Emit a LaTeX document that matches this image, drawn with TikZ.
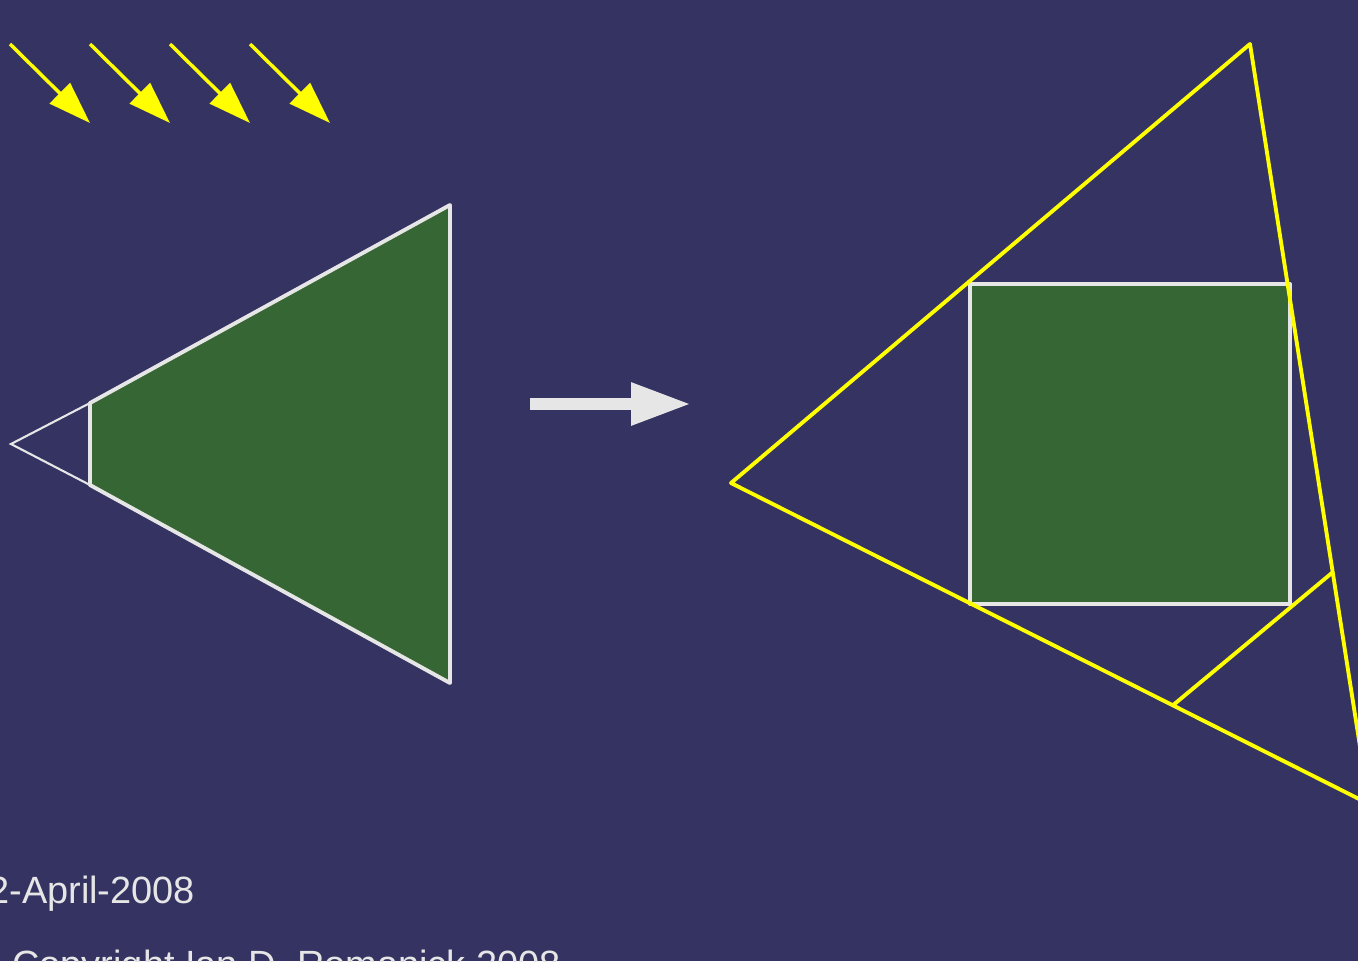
\documentclass[tikz,border=0pt]{standalone}
\usepackage{fontspec}
\setmainfont{Liberation Sans}
\usetikzlibrary{arrows.meta, positioning}
\definecolor{slideBg}{HTML}{343362}
\definecolor{leafGreen}{HTML}{356633}
\definecolor{lineLight}{HTML}{E6E6E6}
\definecolor{rayYellow}{HTML}{FFFF00}

\begin{document}
\begin{tikzpicture}[x=0.02cm, y=-0.02cm,
    every node/.style={font=\fontsize{21.6}{26}\selectfont, text=lineLight, inner sep=0pt},
    ray/.style={rayYellow, line width=2pt, -{Triangle[length=0.85cm, width=0.57cm]}},
    edge/.style={lineLight, line width=2.2pt, line join=round},
    guide/.style={rayYellow, line width=2.2pt, line join=round}]
        \fill[slideBg] (0,0) rectangle (1358,961);
        \useasboundingbox (0,0) rectangle (1358,961);
        \clip (0,0) rectangle (1358,961);
        \foreach \i in {0,...,3}{
          \draw[ray] (10+\i*80,44) -- (90+\i*80,123);}
        % cone before
        \draw[lineLight, line width=1.2pt] (90,403) -- (11,444) -- (90,485);
        \filldraw[edge, fill=leafGreen] (90,403) -- (450,205) -- (450,683) -- (90,485) -- cycle;
        \draw[lineLight, line width=0.24cm, -{Triangle[length=1.2cm, width=0.8cm]}] (530,404) -- (691,404);
        % after
        \filldraw[edge, fill=leafGreen] (970,284) rectangle (1290,604);
        \draw[guide] (731,483) -- (1250,44) -- (1369,804) -- cycle;
        \draw[guide] (1172,706) -- (1333,572);
        \node[anchor=base west] (date) at (-12,903) {2-April-2008};
        \node[anchor=base west] (copy) at (12,977) {Copyright Ian D. Romanick 2008};
      \end{tikzpicture}
\end{document}
